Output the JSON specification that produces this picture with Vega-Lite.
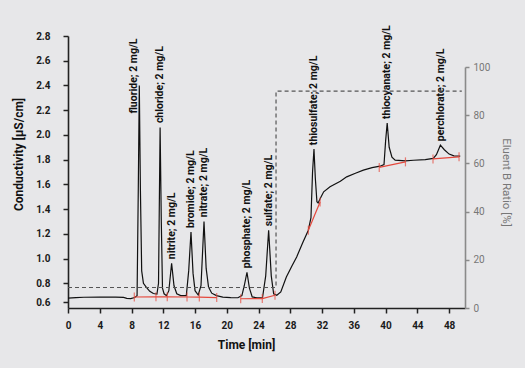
{
  "$schema": "https://vega.github.io/schema/vega-lite/v6.json",
  "width": 397,
  "height": 272,
  "autosize": {"type": "none"},
  "padding": {"left": 68, "top": 36, "right": 60, "bottom": 60},
  "background": "#e7e7e9",
  "config": {"view": {"stroke": null}, "font": "Roboto"},
  "datasets": {
    "trace": [
      {"t": 0, "v": 0.680}, {"t": 1, "v": 0.684}, {"t": 2, "v": 0.687}, {"t": 4, "v": 0.689},
      {"t": 6, "v": 0.688}, {"t": 7, "v": 0.686}, {"t": 7.4, "v": 0.678}, {"t": 7.9, "v": 0.676},
      {"t": 8.4, "v": 0.685}, {"t": 8.7, "v": 0.70}, {"t": 8.85, "v": 1.55}, {"t": 8.98, "v": 2.40},
      {"t": 9.12, "v": 1.55}, {"t": 9.28, "v": 0.90}, {"t": 9.5, "v": 0.80}, {"t": 9.9, "v": 0.765},
      {"t": 10.3, "v": 0.735}, {"t": 10.75, "v": 0.717}, {"t": 11.2, "v": 0.712}, {"t": 11.4, "v": 0.80},
      {"t": 11.6, "v": 2.06}, {"t": 11.75, "v": 1.30}, {"t": 11.9, "v": 0.76}, {"t": 12.1, "v": 0.715},
      {"t": 12.4, "v": 0.70}, {"t": 12.7, "v": 0.74}, {"t": 13.05, "v": 0.962}, {"t": 13.35, "v": 0.78},
      {"t": 13.7, "v": 0.715}, {"t": 14.2, "v": 0.70}, {"t": 14.9, "v": 0.70}, {"t": 15.2, "v": 0.90},
      {"t": 15.49, "v": 1.215}, {"t": 15.75, "v": 0.88}, {"t": 16.0, "v": 0.74}, {"t": 16.4, "v": 0.705},
      {"t": 16.75, "v": 0.78}, {"t": 17.13, "v": 1.30}, {"t": 17.4, "v": 0.92}, {"t": 17.7, "v": 0.77},
      {"t": 18.1, "v": 0.72}, {"t": 18.7, "v": 0.70}, {"t": 19.5, "v": 0.688}, {"t": 20.5, "v": 0.684},
      {"t": 21.4, "v": 0.683}, {"t": 21.9, "v": 0.70}, {"t": 22.2, "v": 0.78}, {"t": 22.54, "v": 0.889},
      {"t": 22.85, "v": 0.76}, {"t": 23.2, "v": 0.69}, {"t": 23.8, "v": 0.682}, {"t": 24.5, "v": 0.685},
      {"t": 24.9, "v": 0.86}, {"t": 25.27, "v": 1.229}, {"t": 25.6, "v": 0.86}, {"t": 25.9, "v": 0.715},
      {"t": 26.3, "v": 0.703}, {"t": 26.8, "v": 0.73}, {"t": 27.5, "v": 0.85}, {"t": 28.2, "v": 0.94},
      {"t": 28.8, "v": 1.013}, {"t": 29.6, "v": 1.134}, {"t": 30.27, "v": 1.229}, {"t": 30.6, "v": 1.33},
      {"t": 30.8, "v": 1.7}, {"t": 30.98, "v": 1.885}, {"t": 31.15, "v": 1.65}, {"t": 31.35, "v": 1.46},
      {"t": 31.5, "v": 1.45}, {"t": 31.8, "v": 1.49}, {"t": 32.2, "v": 1.54}, {"t": 33.0, "v": 1.58},
      {"t": 34.3, "v": 1.625}, {"t": 35.1, "v": 1.661}, {"t": 36.2, "v": 1.69}, {"t": 37.2, "v": 1.715},
      {"t": 38.3, "v": 1.735}, {"t": 39.3, "v": 1.747}, {"t": 39.8, "v": 1.76}, {"t": 40.0, "v": 1.95},
      {"t": 40.2, "v": 2.096}, {"t": 40.45, "v": 1.9}, {"t": 40.8, "v": 1.82}, {"t": 41.2, "v": 1.796},
      {"t": 42.5, "v": 1.79}, {"t": 43.5, "v": 1.795}, {"t": 45.0, "v": 1.80}, {"t": 46.0, "v": 1.81},
      {"t": 46.4, "v": 1.84}, {"t": 46.9, "v": 1.917}, {"t": 47.4, "v": 1.88}, {"t": 48.0, "v": 1.845},
      {"t": 48.6, "v": 1.83}, {"t": 49.4, "v": 1.828}
    ],
    "base": [
      {"seg": "A", "t": 8.35, "v": 0.689}, {"seg": "A", "t": 11.08, "v": 0.690}, {"seg": "A", "t": 12.5, "v": 0.690},
      {"seg": "A", "t": 14.99, "v": 0.689}, {"seg": "A", "t": 16.54, "v": 0.688}, {"seg": "A", "t": 18.73, "v": 0.684},
      {"seg": "B", "t": 21.75, "v": 0.675}, {"seg": "B", "t": 24.47, "v": 0.676}, {"seg": "B", "t": 26.07, "v": 0.703},
      {"seg": "C", "t": 30.27, "v": 1.229}, {"seg": "C", "t": 31.75, "v": 1.458},
      {"seg": "D", "t": 39.2, "v": 1.737}, {"seg": "D", "t": 42.5, "v": 1.782},
      {"seg": "E", "t": 45.97, "v": 1.806}, {"seg": "E", "t": 49.25, "v": 1.823}
    ],
    "labels": [
      {"label": "fluoride; 2 mg/L", "t": 8.3, "v": 2.14},
      {"label": "chloride; 2 mg/L", "t": 11.6, "v": 2.063},
      {"label": "nitrite; 2 mg/L", "t": 13.1, "v": 0.962},
      {"label": "bromide; 2 mg/L", "t": 15.49, "v": 1.215},
      {"label": "nitrate; 2 mg/L", "t": 17.15, "v": 1.302},
      {"label": "phosphate; 2 mg/L", "t": 22.54, "v": 0.889},
      {"label": "sulfate; 2 mg/L", "t": 25.27, "v": 1.229},
      {"label": "thiosulfate; 2 mg/L", "t": 30.98, "v": 1.885},
      {"label": "thiocyanate; 2 mg/L", "t": 40.2, "v": 2.096},
      {"label": "perchlorate; 2 mg/L", "t": 47.0, "v": 1.917}
    ],
    "eluent": [
      {"t": 0, "b": 8.5}, {"t": 26.2, "b": 8.5}, {"t": 26.2, "b": 90}, {"t": 49.6, "b": 90}
    ]
  },
  "encoding": {
    "x": {
      "field": "t", "type": "quantitative",
      "scale": {"domain": [0, 50], "nice": false, "zero": false},
      "axis": {
        "values": [0, 4, 8, 12, 16, 20, 24, 28, 32, 36, 40, 44, 48],
        "title": "Time [min]", "titleFontSize": 12, "titleFontWeight": "bold", "titleColor": "#111",
        "titleX": 178, "titleY": 36, "titleBaseline": "middle", "titleAnchor": null,
        "labelFontSize": 10, "labelFontWeight": "bold", "labelColor": "#1a1a1a", "labelPadding": 7,
        "labelFlush": false, "grid": false,
        "domainColor": "#222", "domainWidth": 1.6, "tickColor": "#222", "tickWidth": 1.5, "tickSize": 5
      }
    }
  },
  "layer": [
    {
      "encoding": {
        "y": {
          "field": "v", "type": "quantitative",
          "scale": {"domain": [0.6, 2.8], "nice": false, "zero": false},
          "axis": {
            "values": [0.645, 0.8, 1.0, 1.2, 1.4, 1.6, 1.8, 2.0, 2.2, 2.4, 2.6, 2.8],
            "format": ".1f",
            "title": "Conductivity [µS/cm]", "titleFontSize": 12, "titleFontWeight": "bold", "titleColor": "#111",
            "titleX": -50, "titleY": 118, "titleAngle": -90, "titleBaseline": "middle", "titleAlign": "center", "titleAnchor": null,
            "labelFontSize": 10, "labelFontWeight": "bold", "labelColor": "#1a1a1a", "labelPadding": 13,
            "grid": false,
            "domainColor": "#222", "domainWidth": 1.6, "tickColor": "#222", "tickWidth": 1.5, "tickSize": 5
          }
        }
      },
      "layer": [
        {
          "data": {"name": "trace"},
          "mark": {"type": "line", "color": "#111", "strokeWidth": 1.2},
          "encoding": {}
        },
        {
          "data": {"name": "base"},
          "mark": {"type": "line", "color": "#e5483c", "strokeWidth": 1.2},
          "encoding": {"detail": {"field": "seg"}}
        },
        {
          "data": {"name": "base"},
          "mark": {"type": "tick", "orient": "vertical", "color": "#e5483c", "size": 9, "thickness": 1.2}
        },
        {
          "data": {"name": "labels"},
          "mark": {"type": "text", "angle": 270, "align": "left", "baseline": "middle", "dx": 4,
                   "fontSize": 10.5, "fontWeight": "bold", "color": "#111"},
          "encoding": {"text": {"field": "label"}}
        }
      ]
    },
    {
      "data": {"name": "eluent"},
      "mark": {"type": "line", "color": "#555", "strokeWidth": 1.2, "strokeDash": [4, 3]},
      "encoding": {
        "y": {
          "field": "b", "type": "quantitative",
          "scale": {"domain": [0, 100], "range": [272, 31], "nice": false, "zero": false},
          "axis": {
            "orient": "right",
            "values": [0, 20, 40, 60, 80, 100],
            "title": "Eluent B Ratio [%]", "titleFontSize": 11.5, "titleFontWeight": "normal", "titleColor": "#777",
            "titleX": 40, "titleY": 146, "titleAngle": 90, "titleBaseline": "middle", "titleAlign": "center", "titleAnchor": null,
            "labelFontSize": 10, "labelFontWeight": "normal", "labelColor": "#777", "labelPadding": 4,
            "grid": false,
            "domainColor": "#8a8a8a", "domainWidth": 1.6, "tickColor": "#8a8a8a", "tickWidth": 1.5, "tickSize": 4
          }
        }
      }
    }
  ],
  "resolve": {"scale": {"y": "independent"}}
}
